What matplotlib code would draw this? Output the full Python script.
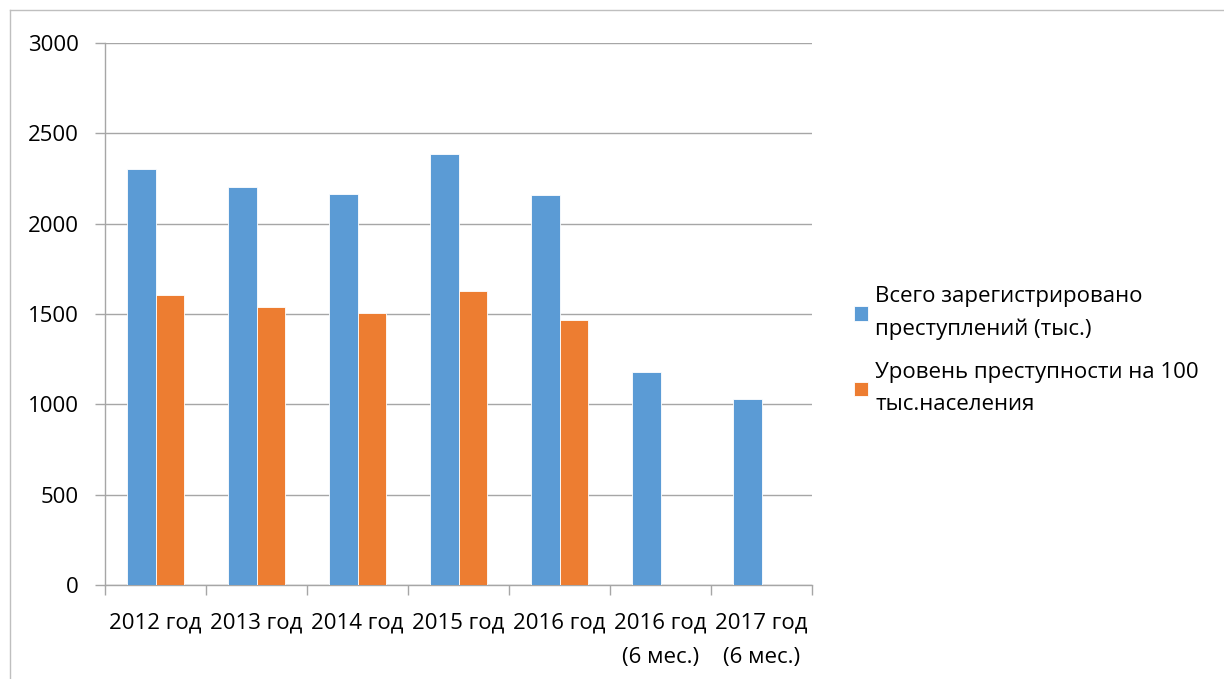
import matplotlib.pyplot as plt
from matplotlib.lines import Line2D
import numpy as np

# --- DATA ---
categories = ["2012 год", "2013 год", "2014 год", "2015 год", "2016 год",
              "2016 год\n(6 мес.)", "2017 год\n(6 мес.)"]
total_crimes = [2302, 2203, 2166, 2387, 2157, 1179, 1028]
crime_rate = [1607, 1537, 1504, 1630, 1469, np.nan, np.nan]
series_labels = ["Всего зарегистрировано\nпреступлений (тыс.)",
                 "Уровень преступности на 100\nтыс.населения"]
y_ticks = [0, 500, 1000, 1500, 2000, 2500, 3000]

BLUE = "#5B9BD5"
ORANGE = "#ED7D31"
GRID = "#A6A6A6"

plt.rcParams['font.family'] = ['Open Sans', 'DejaVu Sans']
plt.rcParams['font.size'] = 16

fig = plt.figure(figsize=(12.24, 6.79), dpi=100)
ax = fig.add_axes([105 / 1224, 1 - 585 / 679, 707 / 1224, 542 / 679])

x = np.arange(len(categories))
w = 1 / 3.5
ax.bar(x - w / 2, total_crimes, w, color=BLUE, edgecolor="white", linewidth=0.6,
       label=series_labels[0], zorder=3)
ax.bar(x + w / 2, crime_rate, w, color=ORANGE, edgecolor="white", linewidth=0.6,
       label=series_labels[1], zorder=3)

ax.set_xlim(-0.5, len(categories) - 0.5)
ax.set_ylim(0, 3000)
ax.set_yticks(y_ticks)
ax.yaxis.grid(True, color=GRID, linewidth=1, zorder=0)

# category labels centred, ticks at boundaries
ax.set_xticks(x)
ax.set_xticklabels(categories, linespacing=1.85)
ax.tick_params(axis='x', length=0, pad=20, colors='black')
ax.set_xticks(np.arange(len(categories) + 1) - 0.5, minor=True)
ax.tick_params(axis='x', which='minor', length=7, color=GRID, width=1)
ax.tick_params(axis='y', length=7, color=GRID, width=1, pad=12)

for side in ['top', 'right']:
    ax.spines[side].set_visible(False)
for side in ['left', 'bottom']:
    ax.spines[side].set_color(GRID)
    ax.spines[side].set_linewidth(1)

# legend
handles, labels = ax.get_legend_handles_labels()
leg = fig.legend(handles, labels, loc='upper left',
                 bbox_to_anchor=(845 / 1224, 1 - 277 / 679), frameon=False,
                 handlelength=0.65, handleheight=0.65, handletextpad=0.3,
                 labelspacing=1.0, borderaxespad=0)
for t in leg.get_texts():
    t.set_linespacing(1.7)

# outer chart frame (left and top edges)
fig.add_artist(Line2D([10 / 1224, 10 / 1224], [0, 1 - 10 / 679],
                      transform=fig.transFigure, color="#BFBFBF", linewidth=1))
fig.add_artist(Line2D([10 / 1224, 1], [1 - 10 / 679, 1 - 10 / 679],
                      transform=fig.transFigure, color="#BFBFBF", linewidth=1))

fig.savefig("out.png", dpi=100)
